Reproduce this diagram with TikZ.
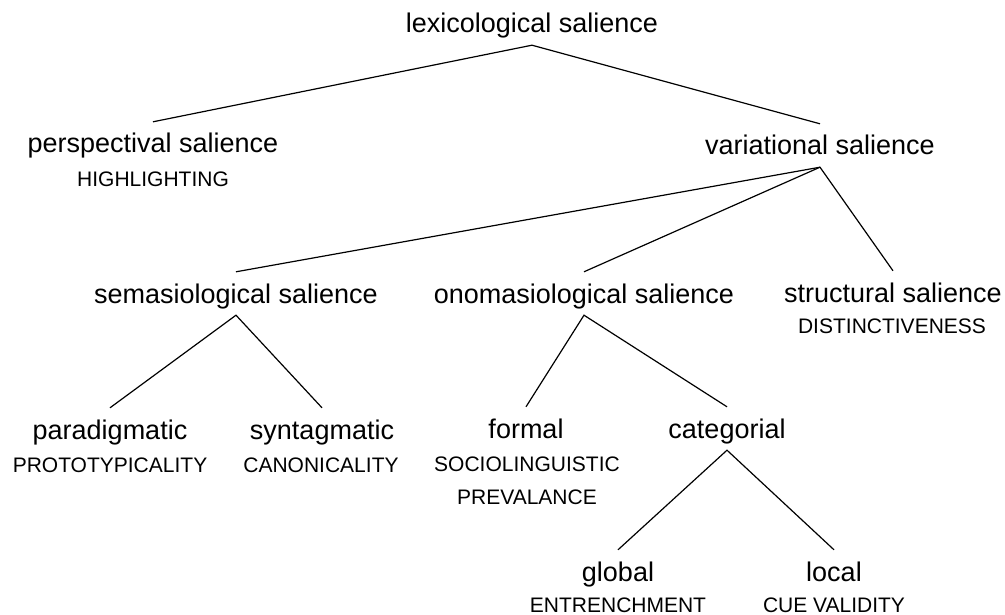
\documentclass[tikz,border=0pt]{standalone}
\usepackage{fontspec}
\setmainfont{Liberation Sans}
\tikzset{
  term/.style={font=\fontsize{27}{32}\selectfont, anchor=base, text height=27pt, text depth=8pt, inner sep=4pt},
  gloss/.style={font=\fontsize{21}{25}\selectfont, anchor=base, inner sep=0pt},
  branch/.style={line width=1.2pt}
}
\begin{document}
\begin{tikzpicture}[x=1pt,y=-1pt]
  \fill[white] (0,0) rectangle (1005,615);
  \useasboundingbox (0,0) rectangle (1005,615);

  % Terms
  \node[term] (lex) at (532,33) {lexicological salience};
  \node[term] (persp) at (153,153) {perspectival salience};
  \node[term] (var) at (820,155) {variational salience};
  \node[term] (sema) at (236,303) {semasiological salience};
  \node[term] (onom) at (584,303) {onomasiological salience};
  \node[term] (struct) at (893,302) {structural salience};
  \node[term] (para) at (110,439) {paradigmatic};
  \node[term] (synt) at (322,439) {syntagmatic};
  \node[term] (formal) at (526,438) {formal};
  \node[term] (categ) at (727,438) {categorial};
  \node[term] (global) at (618,581) {global};
  \node[term] (local) at (834,581) {local};

  % Glosses
  \node[gloss] (highl) at (153,187) {HIGHLIGHTING};
  \node[gloss] (distinct) at (892,333) {DISTINCTIVENESS};
  \node[gloss] (proto) at (110,472) {PROTOTYPICALITY};
  \node[gloss] (canon) at (321,472) {CANONICALITY};
  \node[gloss] (socio) at (527,471) {SOCIOLINGUISTIC};
  \node[gloss] (preval) at (527,504) {PREVALANCE};
  \node[gloss] (entrench) at (618,612) {ENTRENCHMENT};
  \node[gloss] (cue) at (834,612) {CUE VALIDITY};

  % Draw the branches
  \draw[branch] (persp.north) -- (lex.south) -- (var.north);
  \draw[branch] (sema.north) -- (var.south) -- (struct.north);
  \draw[branch] (var.south) -- (onom.north);
  \draw[branch] (para.north) -- (sema.south) -- (synt.north);
  \draw[branch] (formal.north) -- (onom.south) -- (categ.north);
  \draw[branch] (global.north) -- (categ.south) -- (local.north);
\end{tikzpicture}
\end{document}
